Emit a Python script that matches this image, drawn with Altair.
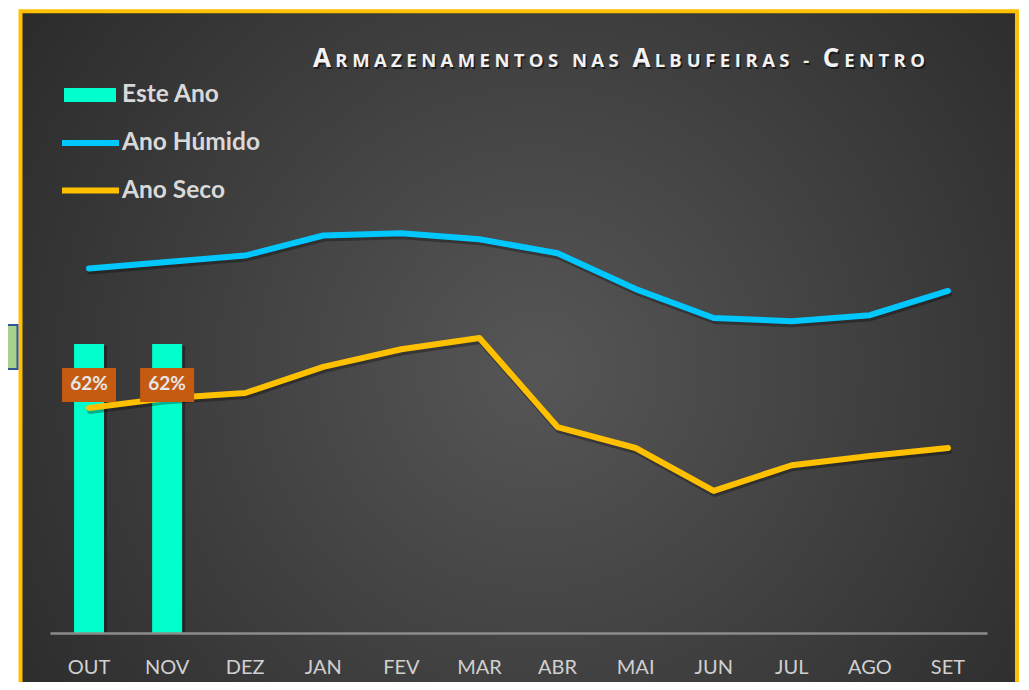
import altair as alt
import pandas as pd

# ---------------- data ----------------
months = ["OUT", "NOV", "DEZ", "JAN", "FEV", "MAR", "ABR", "MAI", "JUN", "JUL", "AGO", "SET"]
este_ano_months = ["OUT", "NOV"]
este_ano = [62, 62]
este_ano_labels = ["62%", "62%"]
ano_humido = [78.2, 79.6, 81.0, 85.3, 85.8, 84.5, 81.5, 73.8, 67.6, 66.9, 68.2, 73.4]
ano_seco = [48.3, 50.4, 51.5, 57.1, 60.9, 63.3, 44.2, 39.7, 30.5, 36.0, 38.0, 39.7]
series_names = ["Este Ano", "Ano Húmido", "Ano Seco"]
title_words = ["Armazenamentos", "nas", "Albufeiras", "-", "Centro"]

bars_df = pd.DataFrame({"mes": este_ano_months, "valor": este_ano,
                        "rotulo": este_ano_labels, "serie": series_names[0]})
lines_df = pd.DataFrame({
    "mes": months * 2,
    "valor": ano_humido + ano_seco,
    "serie": [series_names[1]] * 12 + [series_names[2]] * 12,
})

# ---------------- small-caps title (letter-spaced, like the original) ----------------
W = {"A": .69, "B": .70, "C": .65, "E": .57, "F": .54, "I": .34, "L": .55, "M": .94,
     "N": .81, "O": .80, "R": .67, "S": .56, "T": .57, "U": .77, "Z": .58, " ": .26, "-": .32}
BIG, SMALL = 26, 18.5
glyphs = []
for wi, word in enumerate(title_words):
    if wi > 0:
        glyphs.append((" ", SMALL))
    for ch in word:
        glyphs.append((ch.upper(), BIG if ch.isupper() else SMALL))
span = 612.0
adv = sum(W[c] * fs for c, fs in glyphs)
gap = (span - adv) / (len(glyphs) - 1)
rows, xpos = [], 263.0
for c, fs in glyphs:
    if c != " ":
        rows.append({"ch": c, "px": xpos, "fs": fs})
    xpos += W[c] * fs + gap
title_df = pd.DataFrame(rows)

FONT = "Lato"
LEG_FS = 24.5
one = pd.DataFrame({"k": [0]})

x_scale = alt.Scale(type="band", domain=months, paddingInner=0, paddingOuter=0)
x_axis = alt.X("mes:N", sort=months, title=None, scale=x_scale,
               axis=alt.Axis(labelAngle=0, labelAlign="center", labelBaseline="top",
                             ticks=False, tickSize=0, labelPadding=24,
                             labelFont=FONT, labelFontSize=20, labelColor="#D0D0D0",
                             domainColor="#8C8C8C", domainWidth=2.5, zindex=1))
x_enc = alt.X("mes:N", sort=months, title=None, scale=x_scale)
y_scale = alt.Scale(domain=[0, 100])
y_enc = alt.Y("valor:Q", scale=y_scale, axis=None)

# background panel with radial gradient and yellow frame
panel = alt.Chart(one).mark_rect(
    fill={"gradient": "radial", "x1": 0.52, "y1": 0.5, "r1": 0, "x2": 0.52, "y2": 0.5, "r2": 0.72,
          "stops": [{"offset": 0, "color": "#565656"}, {"offset": 1, "color": "#252525"}]},
    stroke="#FFC000", strokeWidth=4,
).encode(x=alt.value(-29.5), x2=alt.value(967), y=alt.value(-155.7), y2=alt.value(560))

side_box = alt.Chart(one).mark_rect(fill="#A9D18E", stroke="#2F5597", strokeWidth=2).encode(
    x=alt.value(-60), x2=alt.value(-32.5), y=alt.value(158), y2=alt.value(202))

bar_shadow = alt.Chart(bars_df).mark_bar(size=30, color="#000000", opacity=0.35,
                                         xOffset=3, yOffset=2).encode(x=x_enc, y=y_enc)

bars = alt.Chart(bars_df).mark_bar(size=30).encode(
    x=x_enc, y=y_enc,
    fill=alt.Fill("serie:N", scale=alt.Scale(domain=[series_names[0]], range=["#00FFCC"]),
                  legend=alt.Legend(title=None, orient="none", legendX=27.75, legendY=-84.25,
                                    symbolType="M-5.2,-1.4H5.2V1.4H-5.2Z", symbolSize=100,
                                    symbolStrokeWidth=0, symbolOpacity=1,
                                    labelFont=FONT, labelFontSize=LEG_FS, labelFontWeight="bold",
                                    labelColor="#D9D9D9", labelOffset=19.75, padding=0)),
)

line_shadow = alt.Chart(lines_df).mark_line(strokeWidth=6, color="#000000", opacity=0.3,
                                            strokeCap="round", strokeJoin="round",
                                            xOffset=1, yOffset=3).encode(
    x=x_enc, y=y_enc, detail="serie:N")

lines = alt.Chart(lines_df).mark_line(strokeWidth=6, strokeCap="round", strokeJoin="round").encode(
    x=x_axis, y=y_enc,
    stroke=alt.Stroke("serie:N",
                      scale=alt.Scale(domain=series_names[1:], range=["#00C8FF", "#FFC000"]),
                      legend=alt.Legend(title=None, orient="none", legendX=28.25, legendY=-36.25,
                                        symbolType="M-5,0H5", symbolSize=130,
                                        symbolStrokeWidth=6, symbolOpacity=1,
                                        rowPadding=21.5,
                                        labelFont=FONT, labelFontSize=LEG_FS, labelFontWeight="bold",
                                        labelColor="#D9D9D9", labelOffset=19.25, padding=0)),
)

label_box = alt.Chart(bars_df).mark_bar(size=54, color="#C55A11", yOffset=24, y2Offset=58).encode(
    x=x_enc, y=y_enc, y2="valor:Q")

label_text = alt.Chart(bars_df).mark_text(dy=40, font=FONT, fontSize=19, fontWeight="bold",
                                          color="#E6E6E6", baseline="middle").encode(
    x=x_enc, y=y_enc, text="rotulo:N")

data_layer = alt.layer(bar_shadow, bars, line_shadow, lines, label_box, label_text)

title_shadow = alt.Chart(title_df).mark_text(align="left", baseline="alphabetic", font="Open Sans",
                                             fontWeight="bold", color="#000000", opacity=0.55,
                                             dx=1.5, dy=1.5).encode(
    x=alt.X("px:Q", scale=None, axis=None), y=alt.value(-100),
    size=alt.Size("fs:Q", scale=None, legend=None), text="ch:N")

title = alt.Chart(title_df).mark_text(align="left", baseline="alphabetic", font="Open Sans",
                                      fontWeight="bold", color="#F2F2F2").encode(
    x=alt.X("px:Q", scale=None, axis=None), y=alt.value(-100),
    size=alt.Size("fs:Q", scale=None, legend=None), text="ch:N")

chart = alt.layer(
    panel, side_box, data_layer, title_shadow, title,
).resolve_scale(x="independent", y="independent", size="independent").properties(
    width=937, height=466, autosize="none",
    padding={"left": 42, "top": 159, "right": 34, "bottom": 49},
    background="#FFFFFF",
).configure_view(strokeWidth=0)

chart.save("out.html", embed_options={"renderer": "svg", "actions": False})
